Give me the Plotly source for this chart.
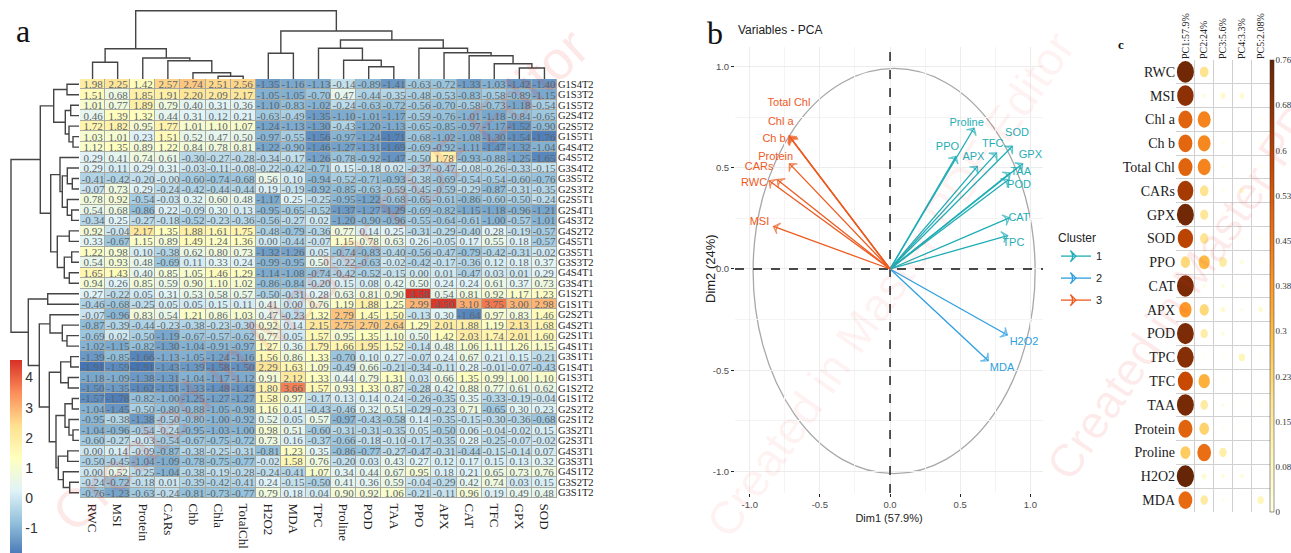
import plotly.graph_objects as go

W, H = 1291, 553
SERIF = "Liberation Serif"
SANS = "Liberation Sans"

# ---------- panel a: heatmap ----------
HM_COLS = ["RWC","MSI","Protein","CARs","Chb","Chla","TotalChl","H2O2","MDA","TPC","Proline","POD","TAA","PPO","APX","CAT","TFC","GPX","SOD"]
HM_ROWS = ["G1S4T2","G1S3T2","G1S5T2","G2S4T2","G2S5T2","G1S5T1","G4S4T2","G4S5T2","G3S4T2","G3S5T2",
           "G2S3T2","G2S5T1","G2S4T1","G4S3T2","G4S2T2","G4S5T1","G3S5T1","G3S3T2","G4S4T1","G3S4T1",
           "G1S2T1","G1S1T1","G2S2T1","G4S2T1","G2S1T1","G4S1T1","G3S1T1","G1S4T1","G1S3T1","G1S2T2",
           "G1S1T2","G2S2T2","G2S1T2","G3S2T1","G2S3T1","G4S3T1","G3S3T1","G4S1T2","G3S2T2","G3S1T2"]
HM_VALUES = [
[1.98,2.25,1.42,2.57,2.74,2.51,2.56,-1.35,-1.16,-1.13,-0.14,-0.89,-1.41,-0.63,-0.72,-1.33,-1.03,-1.42,-1.40],
[1.51,0.68,1.85,1.91,2.20,2.09,2.17,-1.05,-1.05,-0.70,0.47,-0.44,-0.35,-0.48,-0.53,-0.83,-0.58,-0.89,-1.15],
[1.01,0.77,1.89,0.79,0.40,0.31,0.36,-1.10,-0.83,-1.02,-0.24,-0.63,-0.72,-0.56,-0.70,-0.58,-0.73,-1.18,-0.54],
[0.46,1.39,1.32,0.44,0.31,0.12,0.21,-0.63,-0.49,-1.35,-1.10,-1.01,-1.17,-0.59,-0.76,-1.01,-1.18,-0.84,-0.65],
[1.72,1.82,0.95,1.77,1.01,1.10,1.07,-1.24,-1.13,-1.30,-0.43,-1.20,-1.13,-0.65,-0.85,-0.97,-1.17,-1.52,-0.90],
[1.03,1.01,0.23,1.51,0.52,0.47,0.50,-0.97,-0.55,-1.56,-0.97,-1.24,-1.71,-0.68,-1.02,-1.08,-1.30,-1.54,-1.76],
[1.12,1.35,0.89,1.22,0.84,0.78,0.81,-1.22,-0.90,-1.46,-1.27,-1.31,-1.69,-0.69,-0.92,-1.11,-1.47,-1.32,-1.04],
[0.29,0.41,0.74,0.61,-0.30,-0.27,-0.28,-0.34,-0.17,-1.26,-0.78,-0.92,-1.47,-0.50,1.78,-0.93,-0.88,-1.25,-1.65],
[0.29,0.11,0.29,0.31,-0.03,-0.11,-0.08,-0.22,-0.42,-0.71,0.15,-0.18,0.02,-0.37,-0.47,-0.08,-0.26,-0.33,-0.15],
[-0.41,-0.42,-0.20,-0.00,-0.60,-0.74,-0.68,0.56,0.10,-0.94,-0.52,-0.71,-0.93,-0.38,-0.69,-0.54,-0.54,-0.60,-0.76],
[-0.07,0.73,0.29,-0.24,-0.42,-0.44,-0.44,0.19,-0.19,-0.92,-0.85,-0.63,-0.59,-0.45,-0.59,-0.29,-0.87,-0.31,-0.35],
[0.78,0.92,-0.54,-0.03,0.32,0.60,0.48,-1.17,0.25,-0.25,-0.95,-1.22,-0.68,-0.65,-0.61,-0.86,-0.60,-0.50,-0.24],
[0.54,0.68,-0.86,0.22,-0.09,0.30,0.13,-0.95,-0.65,-0.52,-1.37,-1.27,-1.29,-0.69,-0.82,-1.15,-1.18,-0.96,-1.21],
[-0.34,0.25,-0.27,-0.18,-0.52,-0.23,-0.36,-0.56,-0.27,0.02,-1.20,-0.90,-0.96,-0.55,-0.64,-0.61,-1.00,-0.57,-1.01],
[0.92,-0.04,2.17,1.35,1.88,1.61,1.75,-0.48,-0.79,-0.36,0.77,0.14,0.25,-0.31,-0.29,-0.40,0.28,-0.19,-0.57],
[0.33,-0.67,1.15,0.89,1.49,1.24,1.36,0.00,-0.44,-0.07,1.15,0.78,0.63,0.26,-0.05,0.17,0.55,0.18,-0.57],
[1.22,0.98,0.10,-0.38,0.62,0.80,0.73,-1.32,-1.26,0.05,-0.74,-0.83,-0.40,-0.56,-0.47,-0.79,-0.42,-0.31,-0.02],
[0.54,0.93,0.48,-0.69,0.11,0.33,0.24,-0.99,-0.95,0.50,-0.22,-0.63,-0.02,-0.42,-0.17,-0.36,0.12,0.18,0.37],
[1.65,1.43,0.40,0.85,1.05,1.46,1.29,-1.14,-1.08,-0.74,-0.42,-0.52,-0.15,0.00,0.01,-0.47,0.03,0.01,0.29],
[0.94,0.26,0.85,0.59,0.90,1.10,1.02,-0.86,-0.84,-0.20,0.15,0.08,0.42,0.50,0.24,0.24,0.61,0.37,0.73],
[0.27,-0.22,0.05,0.31,0.53,0.58,0.57,-0.50,-0.31,0.28,0.63,0.81,0.90,4.58,0.54,0.81,0.92,1.17,1.23],
[-0.46,-0.68,-0.25,0.05,0.05,0.15,0.11,0.41,0.00,0.76,1.19,1.88,1.25,2.99,4.50,3.10,3.75,3.00,2.98],
[-0.07,-0.96,0.83,0.54,1.21,0.86,1.03,0.47,-0.23,1.32,2.79,1.45,1.50,-0.13,0.30,-1.64,0.97,0.83,1.46],
[-0.87,-0.39,-0.44,-0.23,-0.38,-0.23,-0.30,0.92,0.14,2.15,2.75,2.70,2.64,1.29,2.01,1.88,1.19,2.13,1.68],
[-0.69,0.02,-0.50,-1.19,-0.67,-0.57,-0.62,0.77,0.05,1.57,0.95,1.35,1.10,0.50,1.42,2.03,1.74,2.01,1.60],
[-1.02,-1.15,-0.82,-1.30,-1.04,-0.91,-0.97,1.27,0.36,1.79,1.66,1.95,1.52,-0.14,0.48,1.06,1.11,1.26,1.15],
[-1.39,-0.85,-1.66,-1.13,-1.05,-1.24,-1.16,1.56,0.86,1.33,-0.70,0.10,0.27,-0.07,0.24,0.67,0.21,0.15,-0.21],
[-1.91,-1.59,-1.91,-1.43,-1.39,-1.58,-1.50,2.29,1.63,1.09,-0.49,0.66,-0.21,-0.34,-0.11,0.28,-0.01,-0.07,-0.43],
[-1.18,-1.09,-1.38,-1.31,-1.04,-1.17,-1.12,0.91,2.12,1.33,0.44,0.79,1.31,0.03,0.66,1.35,0.99,1.00,1.10],
[-1.50,-1.35,-1.62,-1.51,-1.33,-1.48,-1.43,1.80,3.66,1.57,0.93,1.33,0.87,-0.28,0.42,0.88,0.77,0.61,0.62],
[-1.57,-1.78,-0.82,-1.00,-1.25,-1.27,-1.27,1.58,0.97,-0.17,0.13,0.14,0.24,-0.26,-0.35,0.35,-0.33,-0.19,-0.04],
[-1.04,-1.45,-0.50,-0.80,-0.88,-1.05,-0.98,1.16,0.41,-0.43,-0.46,0.32,0.51,-0.29,-0.23,0.71,-0.65,0.30,0.23],
[-0.95,-0.38,-1.38,-0.50,-0.80,-1.00,-0.92,0.52,0.05,0.57,-0.97,-0.43,-0.58,0.14,-0.35,-0.15,-0.30,-0.36,-0.68],
[-1.04,-0.96,-0.54,-0.24,-0.95,-1.03,-1.00,0.98,0.51,-0.60,-0.31,-0.31,-0.35,0.05,-0.50,0.06,-0.04,-0.02,0.15],
[-0.60,-0.27,-0.03,-0.54,-0.67,-0.75,-0.72,0.73,0.16,-0.37,-0.66,-0.18,-0.10,-0.17,-0.35,0.28,-0.25,-0.07,-0.02],
[0.00,0.14,-0.09,-0.87,-0.38,-0.25,-0.31,-0.81,1.23,0.35,-0.86,-0.77,-0.27,-0.47,-0.31,-0.44,-0.15,-0.14,0.07],
[-0.50,-0.45,-1.04,-1.09,-0.78,-0.75,-0.77,-0.02,1.58,0.76,-0.20,0.03,0.43,0.27,0.12,0.17,0.15,0.13,0.32],
[0.00,0.52,-0.25,-1.04,-0.38,-0.19,-0.28,-0.24,-0.41,1.07,0.34,0.44,0.67,0.95,0.18,0.21,0.65,0.73,0.76],
[-0.24,-0.72,-0.18,0.01,-0.39,-0.42,-0.41,0.24,-0.15,-0.50,0.41,0.36,0.59,-0.04,-0.29,0.42,0.74,0.03,0.15],
[-0.76,-1.23,-0.63,-0.24,-0.81,-0.73,-0.77,0.79,0.18,0.04,0.90,0.92,1.06,-0.21,-0.11,0.96,0.19,0.49,0.48],
]
HM_TICKS = [-1, 0, 1, 2, 3, 4]
HM_TICKTEXT = ["-1", "0", "1", "2", "3", "4"]
HM_SCALE = ["#4575B4", "#91BFDB", "#E0F3F8", "#FFFFBF", "#FEE090", "#FC8D59", "#D73027"]

# Dendrograms: node = (height, left, right), leaf = index of row / column
COL_TREE = (68.3,
            (30.3, (16.7, 0, 1), (21, 2, (18.3, 3, (6.3, 4, (2.7, 5, 6))))),
            (48, (25.7, 7, 8),
             (39, (30.7, 9, (18.7, 10, (12.3, 11, 12))),
              (30.7, 13, (26.3, 14, (23.3, 15, (15.3, 16, (11, 17, 18))))))))
ROW_TREE = (68,
            (38.7,
             (25.3, (12, 0, 1), (13.7, (8.3, 2, 3), (10, 4, (6, 5, 6)))),
             (28.3,
              (19, 7, (16.7, (11.7, 8, (6.7, 9, 10)), (11.7, 11, (7.3, 12, 13)))),
              (21.7, (9.7, 14, 15), (14.7, (7.3, 16, 17), (9.7, 18, 19))))),
            (50.7,
             (31.3, 20, 21),
             (39.7,
              (29, 22, (16.7, 23, (12, 24, 25))),
              (29.7,
               (18.3, (8.3, 26, 27), (10.7, 28, 29)),
               (23, (14, (6.7, 30, 31), (10, 32, (6, 33, 34))),
                (20.7, (11.3, 35, 36), (15.7, 37, (9.3, 38, 39))))))))

# ---------- panel b: PCA variables ----------
VAR_NAMES = ["Total Chl","Chl a","Ch b","Protein","CARs","RWC","MSI",
             "Proline","PPO","APX","TFC","SOD","GPX","TAA","POD","CAT","TPC",
             "H2O2","MDA"]
VAR_CLUSTER = [3,3,3,3,3,3,3, 1,1,1,1,1,1,1,1,1,1, 2,2]
VAR_DIM1 = [-0.72,-0.715,-0.71,-0.717,-0.803,-0.862,-0.831, 0.599,0.47,0.622,0.76,0.872,0.945,0.855,0.843,0.85,0.838, 0.836,0.70]
VAR_DIM2 = [0.658,0.652,0.647,0.52,0.441,0.436,0.21, 0.696,0.556,0.507,0.573,0.606,0.52,0.474,0.441,0.252,0.165, -0.326,-0.453]
LABEL_X = [-0.72,-0.779,-0.827,-0.815,-0.933,-0.969,-0.931, 0.546,0.409,0.594,0.732,0.905,1.0,0.931,0.919,0.919,0.879, 0.955,0.798]
LABEL_Y = [0.816,0.724,0.639,0.553,0.502,0.425,0.230, 0.718,0.602,0.553,0.614,0.668,0.56,0.480,0.413,0.249,0.128, -0.36,-0.489]
CLUSTER_COLORS = {1: "#1FADB5", 2: "#2E9FDF", 3: "#EE5A1E"}
PCA_TICKS = [-1.0, -0.5, 0.0, 0.5, 1.0]
PCA_TICKTEXT = ["-1.0", "-0.5", "0.0", "0.5", "1.0"]
PCA_MINOR = [-0.75, -0.25, 0.25, 0.75]
X_RANGE = [-1.105, 1.09]
Y_RANGE = [-1.106, 1.096]

# ---------- panel c: cos2 table ----------
COS_COLS = ["PC1:57.9%", "PC2:24%", "PC3:5.6%", "PC4:3.3%", "PC5:2.08%"]
COS_ROWS = ["RWC","MSI","Chl a","Ch b","Total Chl","CARs","GPX","SOD","PPO","CAT","APX","POD","TPC","TFC","TAA","Protein","Proline","H2O2","MDA"]
COS_VALUES = [
[.74,.19,.01,.01,.00],
[.69,.03,.06,.05,.00],
[.51,.43,.00,.00,.01],
[.50,.42,.01,.00,.01],
[.51,.43,.01,.00,.01],
[.64,.19,.01,.05,.01],
[.74,.17,.01,.00,.00],
[.60,.18,.00,.01,.01],
[.22,.31,.15,.03,.01],
[.72,.02,.03,.01,.00],
[.38,.22,.05,.02,.05],
[.72,.14,.03,.00,.00],
[.70,.01,.01,.10,.01],
[.58,.33,.01,.00,.00],
[.73,.15,.02,.01,.01],
[.51,.24,.01,.01,.00],
[.26,.48,.14,.00,.00],
[.76,.05,.03,.03,.00],
[.49,.15,.01,.00,.10],
]
COS_TICKS = [0, .076, .152, .228, .304, .38, .456, .532, .608, .684, .76]
COS_TICKTEXT = ["0","0.08","0.15","0.23","0.3","0.38","0.45","0.53","0.6","0.68","0.76"]
COS_SCALE = ["#FFFFE5","#FFF7BC","#FEE391","#FEC44F","#FE9929","#EC7014","#CC4C02","#993404","#662506"]

WATERMARK = "Created in Master PDF Editor"


def X(p):
    return p / W


def Y(p):
    return 1 - p / H


def even_scale(colors):
    n = len(colors) - 1
    return [[i / n, c] for i, c in enumerate(colors)]


def interp(colors, t):
    t = max(0.0, min(1.0, t)) * (len(colors) - 1)
    i = min(int(t), len(colors) - 2)
    f = t - i
    a = [int(colors[i][k:k + 2], 16) for k in (1, 3, 5)]
    b = [int(colors[i + 1][k:k + 2], 16) for k in (1, 3, 5)]
    return "rgb(%d,%d,%d)" % tuple(round(u + (v - u) * f) for u, v in zip(a, b))


def walk(node, hs, ps):
    """Returns (position, height) of node, appending its bracket."""
    if isinstance(node, int):
        return node, 0
    h, l, r = node
    pl, hl = walk(l, hs, ps)
    pr, hr = walk(r, hs, ps)
    hs += [hl, h, h, hr, None]
    ps += [pl, pl, pr, pr, None]
    return (pl + pr) / 2, h


fig = go.Figure()

# heatmap
fig.add_trace(go.Heatmap(
    z=HM_VALUES, x=HM_COLS, y=HM_ROWS, xgap=1, ygap=1,
    colorscale=even_scale(HM_SCALE), zmin=-1.91, zmax=4.58,
    text=[[f"{v:.2f}" for v in row] for row in HM_VALUES],
    texttemplate="%{text}",
    textfont=dict(family=SERIF, size=11, color="#5b6468"),
    colorbar=dict(
        x=X(10), xanchor="left", xpad=0, y=Y(360), yanchor="top", ypad=0,
        lenmode="pixels", len=196, thickness=12, outlinewidth=0,
        tickmode="array", tickvals=HM_TICKS, ticktext=HM_TICKTEXT, ticks="",
        tickfont=dict(family=SANS, size=14, color="#333333")),
    xaxis="x", yaxis="y"))

# dendrograms
h, p = [], []
walk(COL_TREE, h, p)
fig.add_trace(go.Scatter(x=p, y=h, mode="lines", line=dict(color="#454545", width=1.4),
                         showlegend=False, xaxis="x2", yaxis="y2"))
h, p = [], []
walk(ROW_TREE, h, p)
fig.add_trace(go.Scatter(x=h, y=p, mode="lines", line=dict(color="#454545", width=1.4),
                         showlegend=False, xaxis="x3", yaxis="y3"))

# PCA reference lines (traces, so they sit over the grid and under the arrows)
fig.add_trace(go.Scatter(x=[0, 0], y=Y_RANGE, mode="lines", showlegend=False,
                         line=dict(color="#444444", width=1.8, dash="dash"), xaxis="x4", yaxis="y4"))
fig.add_trace(go.Scatter(x=X_RANGE, y=[0, 0], mode="lines", showlegend=False,
                         line=dict(color="#111111", width=1.6, dash="dash"), xaxis="x4", yaxis="y4"))

# PCA arrows by cluster
for c in (1, 2, 3):
    xs, ys, sizes = [], [], []
    for i, k in enumerate(VAR_CLUSTER):
        if k == c:
            xs += [0, VAR_DIM1[i], None]
            ys += [0, VAR_DIM2[i], None]
            sizes += [0, 8, 0]
    fig.add_trace(go.Scatter(
        x=xs, y=ys, mode="lines+markers", showlegend=False,
        line=dict(color=CLUSTER_COLORS[c], width=1.3),
        marker=dict(symbol="arrow-wide-open", size=sizes, angleref="previous",
                    color=CLUSTER_COLORS[c], line=dict(color=CLUSTER_COLORS[c], width=1.3)),
        xaxis="x4", yaxis="y4"))
    fig.add_trace(go.Scatter(
        x=[None], y=[None], mode="lines+markers", name=str(c), legendgroup=str(c),
        line=dict(color=CLUSTER_COLORS[c], width=1.3),
        marker=dict(symbol="arrow-wide-open", size=8, angle=90,
                    color=CLUSTER_COLORS[c], line=dict(color=CLUSTER_COLORS[c], width=1.3)),
        xaxis="x4", yaxis="y4"))
    fig.add_trace(go.Scatter(
        x=[LABEL_X[i] for i, k in enumerate(VAR_CLUSTER) if k == c],
        y=[LABEL_Y[i] for i, k in enumerate(VAR_CLUSTER) if k == c],
        text=[VAR_NAMES[i] for i, k in enumerate(VAR_CLUSTER) if k == c],
        mode="text", showlegend=False,
        textfont=dict(family=SANS, size=11, color=CLUSTER_COLORS[c]),
        xaxis="x4", yaxis="y4"))

# cos2 colour bar carrier
fig.add_trace(go.Scatter(
    x=[j for row in COS_VALUES for j in range(len(row))],
    y=[i for i, row in enumerate(COS_VALUES) for _ in row],
    mode="markers", showlegend=False, hoverinfo="skip",
    marker=dict(size=1, opacity=0, color=[v for row in COS_VALUES for v in row],
                colorscale=even_scale(COS_SCALE), cmin=0, cmax=.76,
                colorbar=dict(x=X(1270), xanchor="left", xpad=0, y=Y(60), yanchor="top", ypad=0,
                              lenmode="pixels", len=452, thickness=4, outlinewidth=0.5, outlinecolor="#333",
                              tickmode="array", tickvals=COS_TICKS, ticktext=COS_TICKTEXT,
                              ticks="outside", ticklen=0,
                              tickfont=dict(family=SERIF, size=9, color="#333333"))),
    xaxis="x5", yaxis="y5"))

shapes = [
    dict(type="rect", xref="x domain", yref="y domain", x0=0, x1=1, y0=0, y1=1,
         fillcolor="#A9A99F", line_width=0, layer="below"),
    dict(type="circle", xref="x4", yref="y4", x0=-0.976, x1=1.034, y0=-1.01, y1=0.99,
         line=dict(color="#A8A8A8", width=1.3), layer="below"),
]
for i, row in enumerate(COS_VALUES):
    for j, v in enumerate(row):
        r = 0.46 * (v / .76) ** 0.5
        shapes.append(dict(type="circle", xref="x5", yref="y5",
                           x0=j - r, x1=j + r, y0=i - r, y1=i + r,
                           fillcolor=interp(COS_SCALE, v / .76), line_width=0))


def paper_note(text, x, y, font, **kw):
    return dict(text=text, x=X(x), y=Y(y), xref="paper", yref="paper", showarrow=False, font=font,
                yanchor="middle", **kw)


annotations = [
    paper_note("a", 14, 31, dict(family=SERIF, size=32, color="#111"), xanchor="left"),
    paper_note("b", 705, 33, dict(family=SERIF, size=32, color="#111"), xanchor="left"),
    paper_note("<b>c</b>", 1116, 44, dict(family=SERIF, size=13, color="#111"), xanchor="left"),
    paper_note("Variables - PCA", 736, 30, dict(family=SANS, size=12, color="#222"), xanchor="left"),
    paper_note("Dim2 (24%)", 710, 269, dict(family=SANS, size=13, color="#222"), xanchor="center", textangle=-90),
    paper_note(WATERMARK, 320, 280, dict(family=SANS, size=54, color="rgba(240,50,50,0.11)"),
               xanchor="center", textangle=-43),
    paper_note(WATERMARK, 890, 285, dict(family=SANS, size=46, color="rgba(240,50,50,0.08)"),
               xanchor="center", textangle=-55),
    paper_note(WATERMARK, 1226, 225, dict(family=SANS, size=46, color="rgba(240,50,50,0.10)"),
               xanchor="center", textangle=-56),
]

blank = dict(visible=False, showgrid=False, zeroline=False)
grid_major = "#ECECEC"
grid_minor = "#F4F4F4"
layout = dict(
    width=W, height=H, autosize=False,
    margin=dict(l=0, r=0, t=0, b=0, pad=0, autoexpand=False),
    paper_bgcolor="white", plot_bgcolor="rgba(0,0,0,0)",
    shapes=shapes, annotations=annotations,
    # heatmap
    xaxis=dict(domain=[X(80), X(557)], tickangle=90, ticks="outside", ticklen=2, tickcolor="rgba(0,0,0,0)",
               tickfont=dict(family=SERIF, size=13, color="#222"), showgrid=False, zeroline=False,
               tickmode="array", tickvals=HM_COLS),
    yaxis=dict(domain=[Y(498), Y(79)], autorange="reversed", side="right", ticks="", showgrid=False, zeroline=False,
               tickfont=dict(family=SERIF, size=10.5, color="#222"), tickmode="array", tickvals=HM_ROWS),
    # column dendrogram
    xaxis2=dict(domain=[X(80), X(557)], range=[-0.5, 18.5], **blank),
    yaxis2=dict(domain=[Y(79), Y(9)], range=[0, 70], **blank),
    # row dendrogram
    xaxis3=dict(domain=[X(9), X(79)], range=[70, 0], **blank),
    yaxis3=dict(domain=[Y(498), Y(79)], range=[39.5, -0.5], **blank),
    # PCA
    xaxis4=dict(domain=[X(735), X(1043)], range=X_RANGE, anchor="y4", zeroline=False,
                tickmode="array", tickvals=PCA_TICKS, ticktext=PCA_TICKTEXT,
                ticks="outside", ticklen=3, tickcolor="#222",
                tickfont=dict(family=SANS, size=9.5, color="#4d4d4d"),
                gridcolor=grid_major, minor=dict(tickvals=PCA_MINOR, showgrid=True, gridcolor=grid_minor, ticks=""),
                title=dict(text="Dim1 (57.9%)", standoff=4, font=dict(family=SANS, size=11, color="#222"))),
    yaxis4=dict(domain=[Y(493), Y(47)], range=Y_RANGE, anchor="x4", zeroline=False,
                tickmode="array", tickvals=PCA_TICKS, ticktext=PCA_TICKTEXT,
                ticks="outside", ticklen=3, tickcolor="#222",
                tickfont=dict(family=SANS, size=9.5, color="#4d4d4d"),
                gridcolor=grid_major, minor=dict(tickvals=PCA_MINOR, showgrid=True, gridcolor=grid_minor, ticks="")),
    # cos2 table
    xaxis5=dict(domain=[X(1176), X(1270)], range=[-0.5, 4.5], side="top", anchor="y5", zeroline=False, showgrid=False,
                tickmode="array", tickvals=list(range(5)), ticktext=COS_COLS, tickangle=-90, ticks="",
                tickfont=dict(family=SERIF, size=10, color="#222"),
                minor=dict(tickvals=[-0.5, 0.5, 1.5, 2.5, 3.5, 4.5], showgrid=True, gridcolor="#D0D0D0", gridwidth=1.4, ticks="")),
    yaxis5=dict(domain=[Y(512), Y(60)], range=[18.5, -0.5], anchor="x5", zeroline=False, showgrid=False,
                tickmode="array", tickvals=list(range(19)), ticktext=COS_ROWS, ticks="",
                tickfont=dict(family=SERIF, size=14, color="#222"),
                minor=dict(tickvals=[k - 0.5 for k in range(20)], showgrid=True, gridcolor="#D0D0D0", gridwidth=1.4, ticks="")),
    legend=dict(x=X(1056), y=Y(226), xanchor="left", yanchor="top", traceorder="grouped", tracegroupgap=3, itemwidth=30,
                title=dict(text="Cluster", font=dict(family=SANS, size=12, color="#222")),
                font=dict(family=SANS, size=11, color="#222"), bgcolor="rgba(0,0,0,0)"),
)
fig.update_layout(**layout)

fig.write_html("out.html", config=dict(displayModeBar=False),
               post_script="document.body.style.margin='0';document.body.style.overflow='hidden';")
